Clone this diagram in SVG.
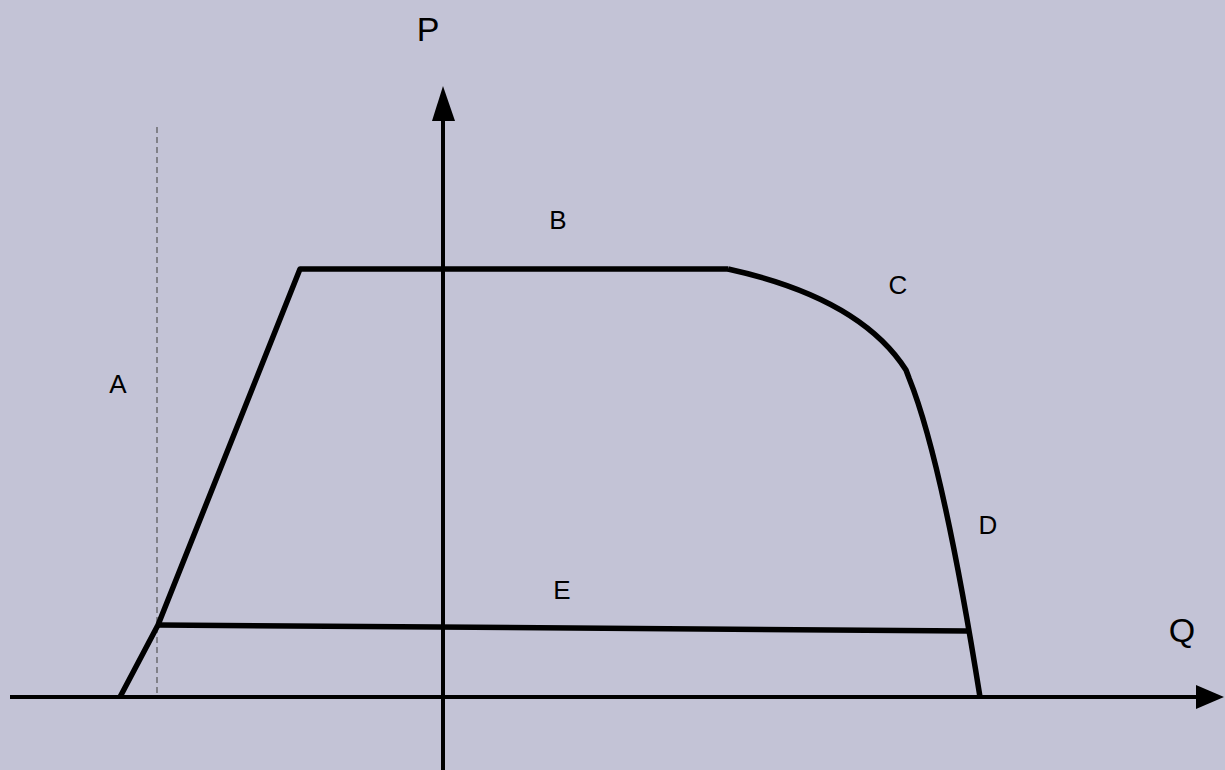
<svg xmlns="http://www.w3.org/2000/svg" width="1225" height="770" viewBox="0 0 1225 770">
<style>
.lbl{font-family:"Liberation Sans",Arial,sans-serif;font-size:26px;fill:#000;text-anchor:middle}
.big{font-size:34px}
.curve{fill:none;stroke:#000;stroke-width:5.5;stroke-linejoin:round}
.axis{fill:none;stroke:#000;stroke-width:4}
</style>
<rect width="1225" height="770" fill="#c3c3d6"/>
<g id="connectors">
<line class="axis" x1="443" y1="770" x2="443" y2="118"/>
<polygon points="443,86 432,121 455,121" fill="#000"/>
<line class="axis" x1="10" y1="697" x2="1198" y2="697"/>
<polygon points="1224,697 1196,685 1196,709" fill="#000"/>
<line x1="157" y1="127" x2="157" y2="697" stroke="#555" stroke-width="1.2" stroke-dasharray="6,4"/>
</g>
<g id="envelope">
<polyline class="curve" points="120,697 158,625 300,269 728,269"/>
<path class="curve" d="M728,269 Q860,298 906,370 L909,378 C930,430 955,540 980,697"/>
<line class="curve" x1="158" y1="625" x2="968" y2="631"/>
</g>
<g id="labels">
<text class="lbl big" x="428" y="41">P</text>
<text class="lbl big" x="1182" y="642">Q</text>
<text class="lbl" x="558" y="229">B</text>
<text class="lbl" x="898" y="294">C</text>
<text class="lbl" x="118" y="393">A</text>
<text class="lbl" x="988" y="534">D</text>
<text class="lbl" x="562" y="599">E</text>
</g>
</svg>
